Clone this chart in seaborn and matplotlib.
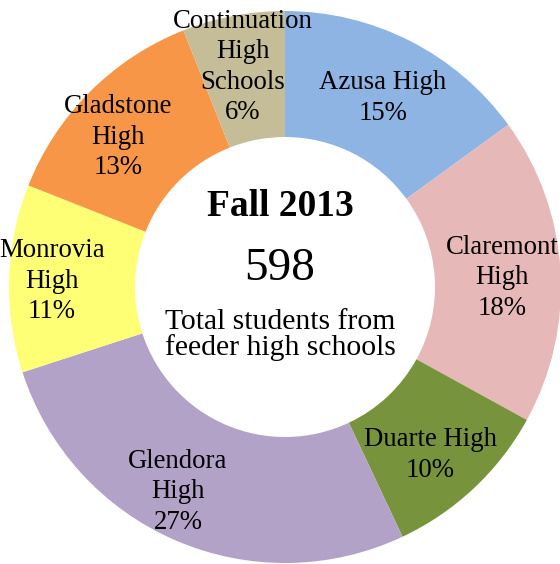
import matplotlib
matplotlib.use("Agg")
import matplotlib.pyplot as plt
import seaborn as sns

# feeder high schools, fall 2013
schools = ["Azusa High", "Claremont\nHigh", "Duarte High", "Glendora\nHigh",
           "Monrovia\nHigh", "Gladstone\nHigh", "Continuation\nHigh\nSchools"]
shares = [15, 18, 10, 27, 11, 13, 6]
total_students = 598
colors = ["#8EB4E3", "#E6B9B8", "#77933C", "#B3A2C7", "#FFFF75", "#F79646", "#C4BD97"]

# label centres (pixel coords, origin at ring centre)
label_pos = [(98, 189), (217, 9), (145, -168), (-107, -205),
             (-233, 6), (-167, 150), (-42, 220)]

sns.set_theme(style="white")
plt.rcParams["font.family"] = ["Liberation Serif", "DejaVu Serif"]
plt.rcParams["text.color"] = "black"
palette = sns.color_palette(colors)

fig = plt.figure(figsize=(5.6, 5.64), dpi=100)
ax = fig.add_axes([0, 0, 1, 1])
ax.pie(shares, colors=palette, startangle=90, counterclock=False,
       radius=276, wedgeprops=dict(width=126, linewidth=0),
       center=(0, 0), frame=False)
ax.set_xlim(-285, 275)
ax.set_ylim(-277, 287)
ax.set_aspect("equal")
ax.axis("off")

for name, pct, (x, y) in zip(schools, shares, label_pos):
    ax.text(x, y, f"{name}\n{pct}%", ha="center", va="center",
            fontsize=19.3, linespacing=1.27)

ax.text(-5, 81, "Fall 2013", ha="center", va="center", fontsize=27, fontweight="bold")
ax.text(-5, 18, str(total_students), ha="center", va="center", fontsize=34)
ax.text(-5, -48, "Total students from\nfeeder high schools", ha="center",
        va="center", fontsize=21.3, linespacing=1.0)

fig.savefig("out.png", dpi=100)
